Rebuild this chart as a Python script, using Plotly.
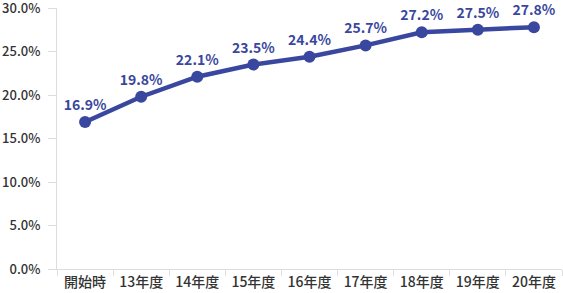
import plotly.graph_objects as go

categories = ["開始時", "13年度", "14年度", "15年度", "16年度", "17年度", "18年度", "19年度", "20年度"]
values = [16.9, 19.8, 22.1, 23.5, 24.4, 25.7, 27.2, 27.5, 27.8]
labels = ["16.9%", "19.8%", "22.1%", "23.5%", "24.4%", "25.7%", "27.2%", "27.5%", "27.8%"]
y_ticks = [0, 5, 10, 15, 20, 25, 30]

FONT = "Noto Sans CJK JP"
BLUE = "#3a479e"

fig = go.Figure(go.Scatter(
    x=categories, y=values, mode="lines+markers+text",
    line=dict(color=BLUE, width=4.5),
    marker=dict(color=BLUE, size=12),
    text=labels, textposition="top center",
    textfont=dict(family=FONT, size=14, color=BLUE, weight="bold"),
    cliponaxis=False, hoverinfo="skip",
))

fig.update_layout(
    width=563, height=293,
    margin=dict(l=57, r=1, t=8, b=24),
    paper_bgcolor="white", plot_bgcolor="white",
    showlegend=False,
    font=dict(family=FONT, color="#333333"),
)
fig.update_xaxes(
    type="category", showgrid=False, showline=True, linecolor="#dddddd", linewidth=1,
    ticks="outside", tickson="boundaries", ticklen=6, tickcolor="#dddddd",
    tickfont=dict(family=FONT, size=14, color="#333333", weight=500),
    range=[-0.5, 8.5], automargin=False,
)
fig.update_yaxes(
    range=[0, 30], tickvals=y_ticks, ticktext=[f"{v:.1f}%" for v in y_ticks],
    showgrid=False, showline=True, linecolor="#dddddd", linewidth=1,
    ticks="outside", ticklen=8, tickcolor="#dddddd", zeroline=False,
    tickfont=dict(family=FONT, size=13, color="#333333", weight=500),
    ticklabelstandoff=5, ticklabeloverflow="allow", automargin=False,
)

fig.write_html("out.html")
